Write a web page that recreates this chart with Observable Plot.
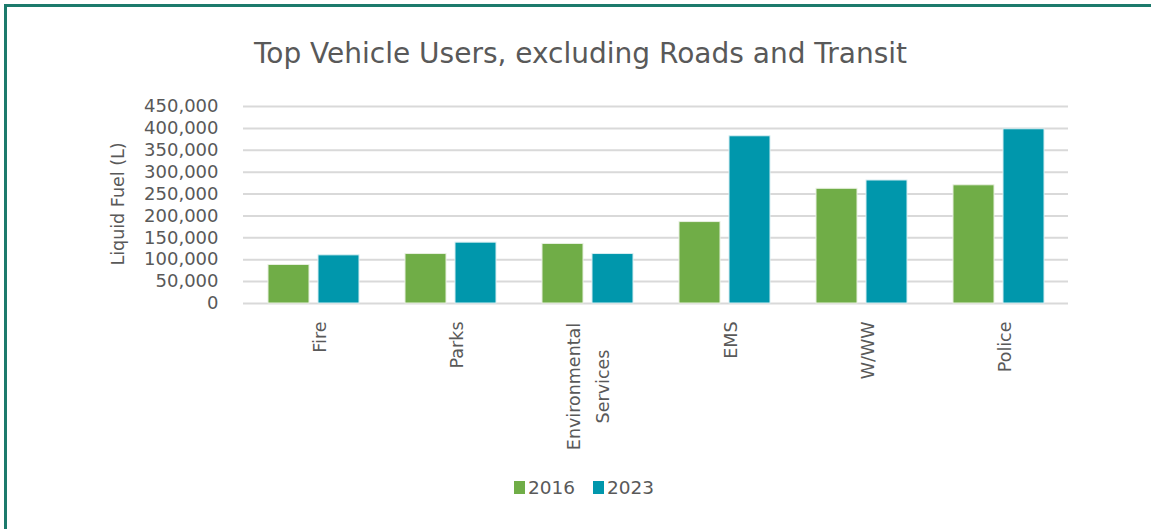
<!DOCTYPE html>
<html>
<head>
<meta charset="utf-8">
<script src="https://cdn.jsdelivr.net/npm/d3@7"></script>
<script src="https://cdn.jsdelivr.net/npm/@observablehq/plot@0.6"></script>
<style>
  html, body { margin: 0; padding: 0; background: #fff; width: 1151px; height: 529px; overflow: hidden; }
  #frame { position: absolute; left: 4px; top: 4px; width: 1200px; height: 600px;
           border-top: 3px solid #1c7a6c; border-left: 3px solid #1c7a6c; }
  #title { position: absolute; left: 0; width: 1161px; top: 37px; text-align: center;
           font-family: "DejaVu Sans", sans-serif; font-size: 28px; color: #595959; white-space: nowrap; letter-spacing: 0px; }
  #ylabel { position: absolute; left: 118px; top: 204px; transform: translate(-50%, -50%) rotate(-90deg);
            font-family: "DejaVu Sans", sans-serif; font-size: 17.5px; color: #595959; white-space: nowrap; }
  #chart { position: absolute; left: 0; top: 80px; }
  #legend { position: absolute; left: 0; width: 1168px; top: 477px; display: flex; justify-content: center;
            gap: 18px; font-family: "DejaVu Sans", sans-serif; font-size: 18.5px; color: #595959; }
  .sw { display: flex; align-items: center; gap: 3px; }
  .sq { width: 11px; height: 13px; display: inline-block; }
</style>
</head>
<body>
<div id="frame"></div>
<div id="title">Top Vehicle Users, excluding Roads and Transit</div>
<div id="ylabel">Liquid Fuel (L)</div>
<div id="chart"></div>
<div id="legend"></div>
<script>
const categories = ["Fire", "Parks", "Environmental Services", "EMS", "W/WW", "Police"];
const tickLabels = ["Fire", "Parks", "Environmental\nServices", "EMS", "W/WW", "Police"];
const series = ["2016", "2023"];
const colors = ["#70ad47", "#0097ac"];
const values2016 = [88000, 113000, 136000, 186000, 262000, 270000];
const values2023 = [110000, 139000, 113000, 382000, 281000, 398000];
const yTicks = [0, 50000, 100000, 150000, 200000, 250000, 300000, 350000, 400000, 450000];

const rows = [];
categories.forEach((c, i) => {
  rows.push({category: c, year: series[0], value: values2016[i]});
  rows.push({category: c, year: series[1], value: values2023[i]});
});
const labelOf = new Map(categories.map((c, i) => [c, tickLabels[i]]));
const fmt = d3.format(",");
const multi = categories.filter(c => labelOf.get(c).includes("\n"));
const single = categories.filter(c => !labelOf.get(c).includes("\n"));

const chart = Plot.plot({
  width: 1151,
  height: 380,
  marginLeft: 243,
  marginRight: 83,
  marginTop: 26,
  marginBottom: 157,
  style: {fontFamily: "'DejaVu Sans', sans-serif", fontSize: "17px", color: "#595959", background: "transparent"},
  x: {domain: categories, padding: 0, axis: null},
  y: {domain: [0, 450000], axis: null},
  color: {domain: series, range: colors},
  marks: [
    Plot.ruleY(yTicks, {stroke: "#d9d9d9", strokeWidth: 2}),
    Plot.barY(rows.filter(d => d.year === series[0]), {x: "category", y: "value", fill: "year",
      insetLeft: 23, insetRight: 73, stroke: "#e8f0e0", strokeWidth: 1}),
    Plot.barY(rows.filter(d => d.year === series[1]), {x: "category", y: "value", fill: "year",
      insetLeft: 73, insetRight: 23, stroke: "#d8eef2", strokeWidth: 1}),
    Plot.axisY({ticks: yTicks, tickSize: 0, tickPadding: 25, tickFormat: fmt,
      fontSize: 18, letterSpacing: "0.7px", fill: "#595959", label: null}),
    Plot.axisX({ticks: single, tickSize: 0, tickPadding: 18, rotate: -90, textAnchor: "end",
      tickFormat: d => labelOf.get(d), fontSize: 17.5, fill: "#595959", label: null}),
    Plot.text(multi, {x: d => d, y: 0, text: d => labelOf.get(d), rotate: -90,
      textAnchor: "middle", lineAnchor: "middle", lineHeight: 1.7, dy: 83, dx: -3, fontSize: 17.5, fill: "#595959"})
  ]
});
document.getElementById("chart").appendChild(chart);

const legend = document.getElementById("legend");
series.forEach((s, i) => {
  const item = document.createElement("div");
  item.className = "sw";
  const sq = document.createElement("span");
  sq.className = "sq";
  sq.style.background = chart.scale("color").apply(s);
  const t = document.createElement("span");
  t.textContent = s;
  item.appendChild(sq); item.appendChild(t);
  legend.appendChild(item);
});
</script>
</body>
</html>
